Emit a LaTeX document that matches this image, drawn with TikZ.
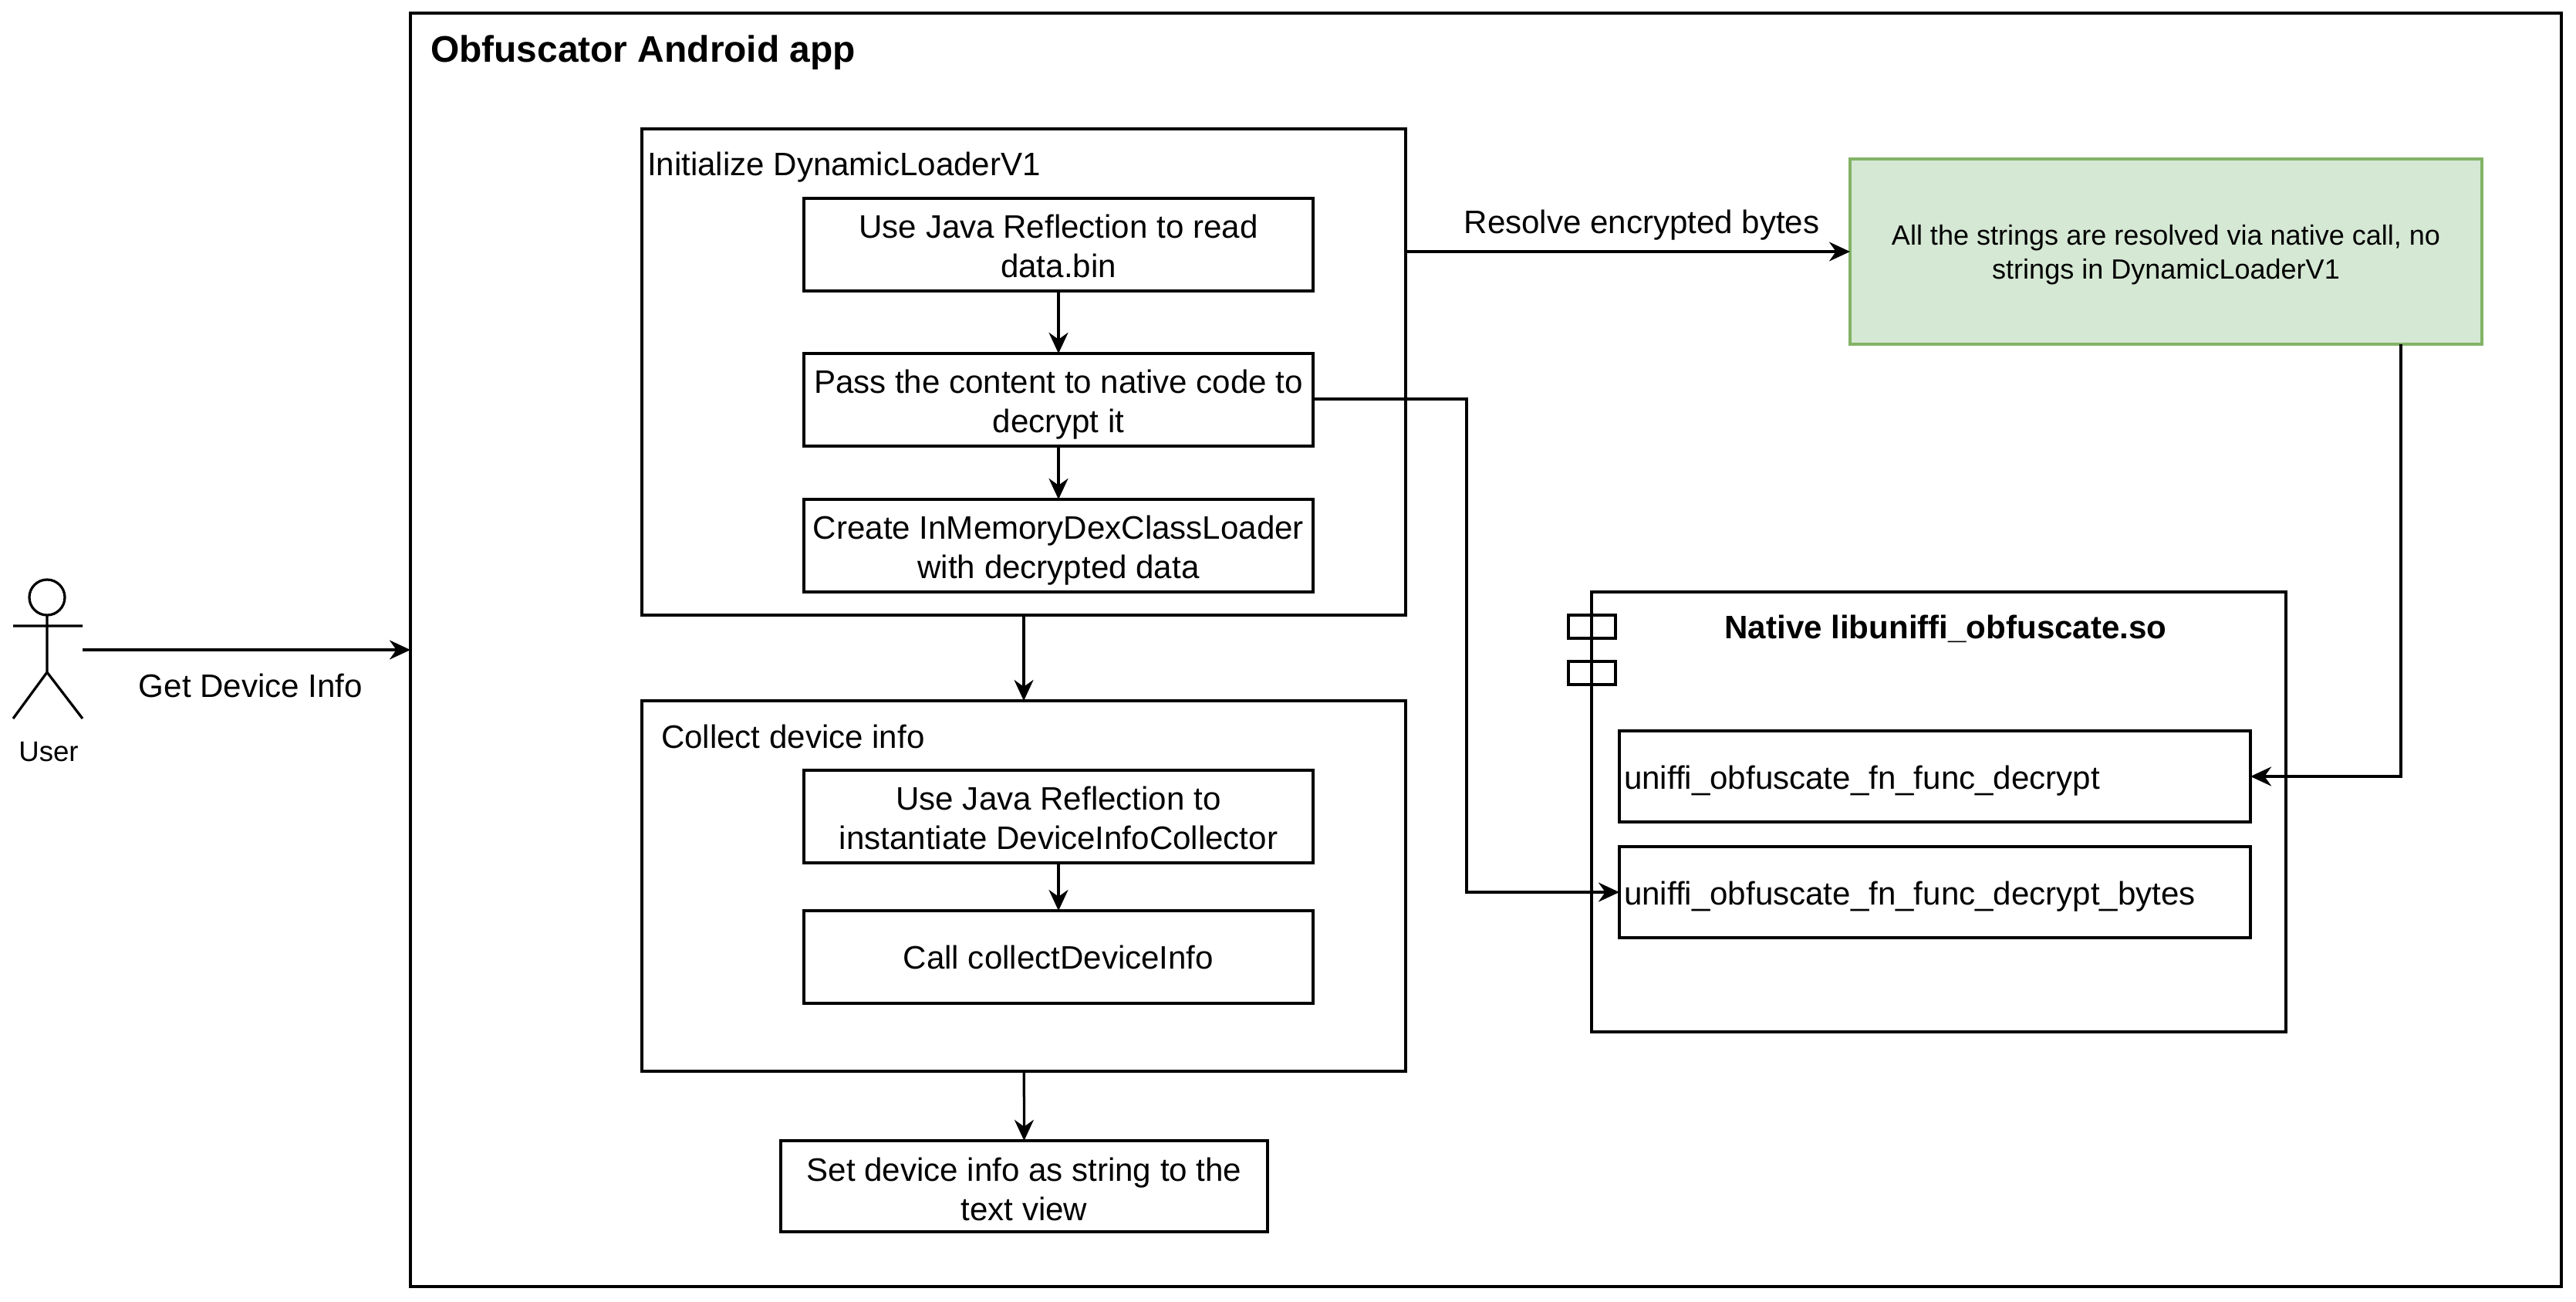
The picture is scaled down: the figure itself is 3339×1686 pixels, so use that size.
\documentclass[tikz,border=0pt]{standalone}
\usepackage{fontspec}
\setmainfont{Liberation Sans}
\usetikzlibrary{arrows.meta}
\definecolor{notefill}{HTML}{D5E8D4}
\definecolor{notedraw}{HTML}{82B366}
\tikzset{
  x=0.24pt,y=-0.24pt,
  box/.style={draw,line width=0.78pt,inner sep=0pt,outer sep=0pt,align=center,font=\fontsize{10.1pt}{12.2pt}\selectfont},
  conn/.style={draw,line width=0.78pt,-{Stealth[length=6.5pt,width=6pt]}},
  lab/.style={inner sep=0pt,outer sep=0pt,font=\fontsize{10.1pt}{12.2pt}\selectfont}
}
\newcommand{\rbox}[6]{\node[box,minimum width=#4*0.24pt,minimum height=#5*0.24pt,anchor=north west] (#1) at (#2,#3) {#6};}
\newcommand{\dn}[1]{\rule{0pt}{#1pt}}
\begin{document}
\begin{tikzpicture}
\useasboundingbox (0,0) rectangle (3339,1686);
\fill[white] (0,0) rectangle (3339,1686);
\rbox{app}{532}{17}{2788}{1650}{}
\node[lab,anchor=west,font=\fontsize{11.5pt}{14pt}\selectfont\bfseries] (apptitle) at (558,68) {Obfuscator Android app};
% init group
\rbox{init}{832}{167}{990}{630}{}
\node[lab,anchor=west] (inittitle) at (839,217) {Initialize DynamicLoaderV1};
\rbox{read}{1042}{257}{660}{120}{\dn{8.2}Use Java Reflection to read\\data.bin}
\rbox{pass}{1042}{458}{660}{120}{\dn{10.2}Pass the content to native code to\\decrypt it}
\rbox{create}{1042}{647}{660}{120}{\dn{10.2}Create InMemoryDexClassLoader\\with decrypted data}
% collect
\rbox{collect}{832}{908}{990}{480}{}
\node[lab,anchor=west] (collecttitle) at (857,954) {Collect device info};
\rbox{instant}{1042}{998}{660}{120}{\dn{8.2}Use Java Reflection to\\instantiate DeviceInfoCollector}
\rbox{call}{1042}{1180}{660}{120}{Call collectDeviceInfo}
\rbox{setinfo}{1012}{1478}{631}{118}{\dn{9.2}Set device info as string to the\\text view}
% green
\node[box,fill=notefill,draw=notedraw,minimum width=819*0.24pt,minimum height=240*0.24pt,anchor=north west,font=\fontsize{8.65pt}{10.7pt}\selectfont] (note) at (2398,206) {\dn{8.2}All the strings are resolved via native call, no\\strings in DynamicLoaderV1};
% native
\rbox{native}{2063}{767}{900}{570}{}
\rbox{tabA}{2033}{797}{61}{30}{}
\rbox{tabB}{2033}{857}{61}{30}{}
\node[lab,anchor=center,font=\fontsize{10.1pt}{12.2pt}\selectfont\bfseries] (nativetitle) at (2522,815) {Native libuniffi\_obfuscate.so};
\rbox{dec}{2099}{947}{818}{118}{}
\node[lab,anchor=west] (dectext) at (2105,1012) {uniffi\_obfuscate\_fn\_func\_decrypt};
\rbox{decb}{2099}{1097}{818}{118}{}
\node[lab,anchor=west] (decbtext) at (2105,1162) {uniffi\_obfuscate\_fn\_func\_decrypt\_bytes};
% user
\draw[line width=0.78pt] (61,774) circle (23);
\draw[line width=0.78pt] (61,797) -- (61,871) (17,811) -- (107,811) (17,931) -- (61,871) -- (107,931);
\coordinate (userr) at (107,842);
\node[inner sep=0pt,font=\fontsize{8.8pt}{11pt}\selectfont] (user) at (63,974) {User};
% connectors
\draw[conn] (userr) -- (app.west |- userr);
\node[lab] (getinfo) at (325,888) {Get Device Info};
\draw[conn] (read) -- (pass);
\draw[conn] (pass) -- (create);
\draw[conn] (init) -- (collect);
\draw[conn] (instant) -- (call);
\draw[conn] (collect) -- (setinfo);
\draw[conn] (init.east |- note) -- (note);
\node[lab] (resolve) at (2128,292) {Resolve encrypted bytes};
\coordinate (p1) at (1901,517);
\coordinate (p2) at (1901,1156);
\draw[conn] (pass.east |- p1) -- (p1) -- (p2) -- (decb.west |- p2);
\coordinate (q1) at (3112,446);
\coordinate (q2) at (3112,1006);
\draw[conn] (q1) -- (q2) -- (dec.east |- q2);
\end{tikzpicture}
\end{document}
